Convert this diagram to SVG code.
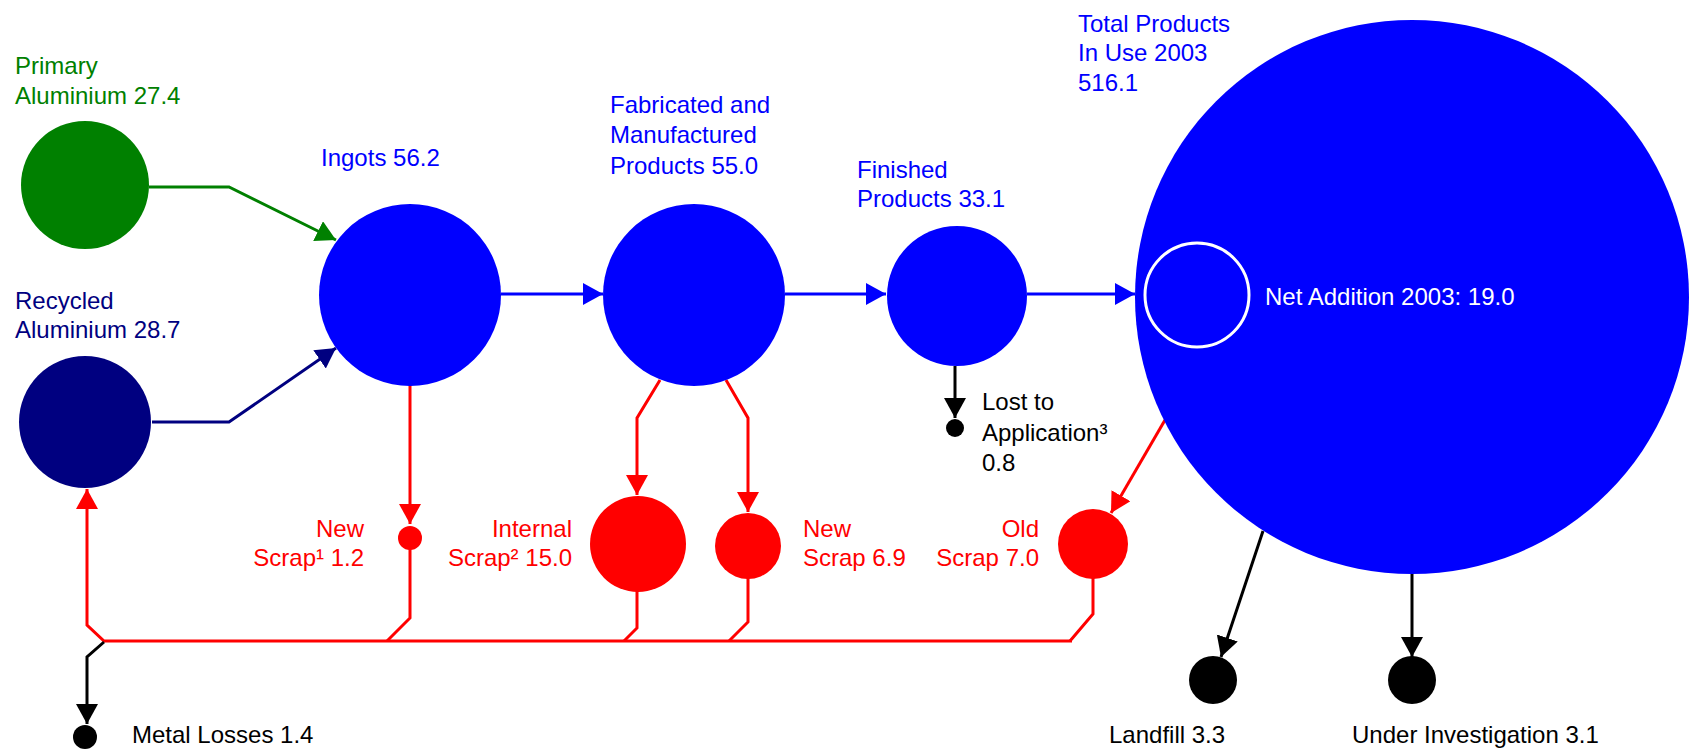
<svg xmlns="http://www.w3.org/2000/svg" width="1694" height="749" viewBox="0 0 1694 749">
  <style>
    text { font-family: "Liberation Sans", Arial, sans-serif; font-size: 24px; }
    .green { fill: #008000; }
    .navy { fill: #000080; }
    .blue { fill: #0000ff; }
    .red { fill: #ff0000; }
    .black { fill: #000000; }
    .white { fill: #ffffff; }
    .end { text-anchor: end; }
    .ln { fill: none; stroke-width: 3; }
    .lg { stroke: #008000; }
    .ln-navy { stroke: #000080; }
    .lb { stroke: #0000ff; }
    .lr { stroke: #ff0000; }
    .lk { stroke: #000000; }
  </style>
  <defs>
    <marker id="ah-green" markerUnits="userSpaceOnUse" markerWidth="22" markerHeight="24" refX="20" refY="11" orient="auto">
      <path d="M0,0 L20,11 L0,22 z" fill="#008000"/>
    </marker>
    <marker id="ah-navy" markerUnits="userSpaceOnUse" markerWidth="22" markerHeight="24" refX="20" refY="11" orient="auto">
      <path d="M0,0 L20,11 L0,22 z" fill="#000080"/>
    </marker>
    <marker id="ah-blue" markerUnits="userSpaceOnUse" markerWidth="22" markerHeight="24" refX="20" refY="11" orient="auto">
      <path d="M0,0 L20,11 L0,22 z" fill="#0000ff"/>
    </marker>
    <marker id="ah-red" markerUnits="userSpaceOnUse" markerWidth="22" markerHeight="24" refX="20" refY="11" orient="auto">
      <path d="M0,0 L20,11 L0,22 z" fill="#ff0000"/>
    </marker>
    <marker id="ah-black" markerUnits="userSpaceOnUse" markerWidth="22" markerHeight="24" refX="20" refY="11" orient="auto">
      <path d="M0,0 L20,11 L0,22 z" fill="#000000"/>
    </marker>
  </defs>

  <rect width="1694" height="749" fill="#ffffff"/>

  <!-- flow lines -->
  <g id="connectors">
    <path class="ln lg" d="M149,187 H229 L336,240" marker-end="url(#ah-green)"/>
    <path class="ln ln-navy" d="M152,422 H229 L336,348" marker-end="url(#ah-navy)"/>

    <path class="ln lb" d="M501,294 H603" marker-end="url(#ah-blue)"/>
    <path class="ln lb" d="M785,294 H886" marker-end="url(#ah-blue)"/>
    <path class="ln lb" d="M1027,294 H1135" marker-end="url(#ah-blue)"/>

    <!-- scrap flows -->
    <path class="ln lr" d="M410,385 V524" marker-end="url(#ah-red)"/>
    <path class="ln lr" d="M410,548 V618 L387,641"/>
    <path class="ln lr" d="M660,380 L637,418 V495" marker-end="url(#ah-red)"/>
    <path class="ln lr" d="M726,380 L748,418 V512" marker-end="url(#ah-red)"/>
    <path class="ln lr" d="M637,591 V628 L624,641"/>
    <path class="ln lr" d="M748,578 V622 L729,641"/>
    <path class="ln lr" d="M1093,578 V614 L1070,641"/>
    <path class="ln lr" d="M1072,641 H104 L87,625 V489" marker-end="url(#ah-red)"/>
    <path class="ln lr" d="M1165,420 L1111,513" marker-end="url(#ah-red)"/>

    <!-- losses -->
    <path class="ln lk" d="M104,642 L87,657 V724" marker-end="url(#ah-black)"/>
    <path class="ln lk" d="M955,366 V418" marker-end="url(#ah-black)"/>
    <path class="ln lk" d="M1263,531 L1221,657" marker-end="url(#ah-black)"/>
    <path class="ln lk" d="M1412,573 V657" marker-end="url(#ah-black)"/>
  </g>

  <g id="primary-aluminium">
    <circle cx="85" cy="185" r="64" fill="#008000"/>
    <text class="green" x="15" y="74">Primary</text>
    <text class="green" x="15" y="104">Aluminium 27.4</text>
  </g>

  <g id="recycled-aluminium">
    <circle cx="85" cy="422" r="66" fill="#000080"/>
    <text class="navy" x="15" y="309">Recycled</text>
    <text class="navy" x="15" y="338">Aluminium 28.7</text>
  </g>

  <g id="ingots">
    <circle cx="410" cy="295" r="91" fill="#0000ff"/>
    <text class="blue" x="321" y="166">Ingots 56.2</text>
  </g>

  <g id="fabricated">
    <circle cx="694" cy="295" r="91" fill="#0000ff"/>
    <text class="blue" x="610" y="113">Fabricated and</text>
    <text class="blue" x="610" y="143">Manufactured</text>
    <text class="blue" x="610" y="174">Products 55.0</text>
  </g>

  <g id="finished">
    <circle cx="957" cy="296" r="70" fill="#0000ff"/>
    <text class="blue" x="857" y="178">Finished</text>
    <text class="blue" x="857" y="207">Products 33.1</text>
  </g>

  <g id="products-in-use">
    <circle cx="1412" cy="297" r="277" fill="#0000ff"/>
    <text class="blue" x="1078" y="32">Total Products</text>
    <text class="blue" x="1078" y="61">In Use 2003</text>
    <text class="blue" x="1078" y="91">516.1</text>
  </g>

  <g id="net-addition">
    <circle cx="1197" cy="295" r="52" fill="none" stroke="#ffffff" stroke-width="3"/>
    <text class="white" x="1265" y="305">Net Addition 2003: 19.0</text>
  </g>

  <g id="new-scrap-ingots">
    <circle cx="410" cy="538" r="12" fill="#ff0000"/>
    <text class="red end" x="364" y="537">New</text>
    <text class="red end" x="364" y="566">Scrap¹ 1.2</text>
  </g>

  <g id="internal-scrap">
    <circle cx="638" cy="544" r="48" fill="#ff0000"/>
    <text class="red end" x="572" y="537">Internal</text>
    <text class="red end" x="572" y="566">Scrap² 15.0</text>
  </g>

  <g id="new-scrap-fabrication">
    <circle cx="748" cy="546" r="33" fill="#ff0000"/>
    <text class="red" x="803" y="537">New</text>
    <text class="red" x="803" y="566">Scrap 6.9</text>
  </g>

  <g id="old-scrap">
    <circle cx="1093" cy="544" r="35" fill="#ff0000"/>
    <text class="red end" x="1039" y="537">Old</text>
    <text class="red end" x="1039" y="566">Scrap 7.0</text>
  </g>

  <g id="lost-to-application">
    <circle cx="955" cy="428" r="9" fill="#000000"/>
    <text class="black" x="982" y="410">Lost to</text>
    <text class="black" x="982" y="441">Application³</text>
    <text class="black" x="982" y="471">0.8</text>
  </g>

  <g id="metal-losses">
    <circle cx="85" cy="737" r="12" fill="#000000"/>
    <text class="black" x="132" y="743">Metal Losses 1.4</text>
  </g>

  <g id="landfill">
    <circle cx="1213" cy="680" r="24" fill="#000000"/>
    <text class="black" x="1109" y="743">Landfill 3.3</text>
  </g>

  <g id="under-investigation">
    <circle cx="1412" cy="680" r="24" fill="#000000"/>
    <text class="black" x="1352" y="743">Under Investigation 3.1</text>
  </g>
</svg>
